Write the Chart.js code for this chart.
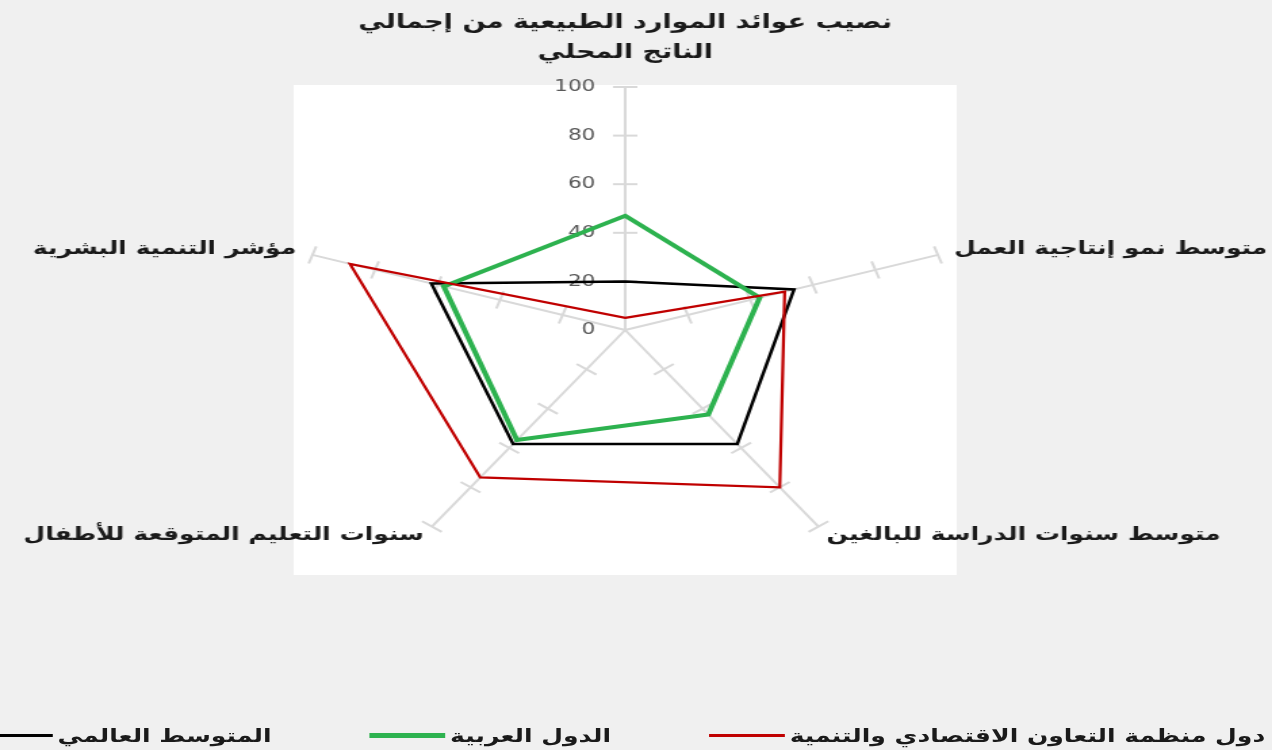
<!DOCTYPE html>
<html lang="ar">
<head>
<meta charset="utf-8">
<title>radar</title>
<script src="https://cdn.jsdelivr.net/npm/chart.js@4.4.1/dist/chart.umd.min.js"></script>
<style>
  html, body { margin: 0; padding: 0; background: #f0f0f0; overflow: hidden; width: 1272px; height: 750px; }
  /* the source picture is stretched sideways, so the whole chart is too */
  #wrap { position: relative; width: 940px; height: 750px; transform: scaleX(1.3532); transform-origin: 0 0; }
  #radar { position: absolute; left: 0; top: 0; }
  #legend { position: absolute; right: 5px; top: 725px; display: flex; flex-direction: row-reverse; gap: 72px;
            font: bold 18.5px "DejaVu Sans"; color: #1a1a1a; }
  .item { display: flex; flex-direction: row-reverse; align-items: center; gap: 4px; white-space: nowrap; }
  .swatch { width: 56px; }
</style>
</head>
<body>
<div id="wrap">
  <canvas id="radar" width="940" height="620"></canvas>
  <div id="legend"></div>
</div>
<script>
const categories = [
  ["نصيب عوائد الموارد الطبيعية من إجمالي", "الناتج المحلي"],
  "متوسط نمو إنتاجية العمل",
  "متوسط سنوات الدراسة للبالغين",
  "سنوات التعليم المتوقعة للأطفال",
  "مؤشر التنمية البشرية",
];
const seriesNames = ["دول منظمة التعاون الاقتصادي والتنمية", "الدول العربية", "المتوسط العالمي"];
const oecdValues = [5, 51, 80, 75, 88];
const arabValues = [47, 43, 43, 56, 58];
const worldValues = [20, 54, 58, 58, 62];
const tickValues = [0, 20, 40, 60, 80, 100];

const seriesColors = ["#c00000", "#2db24f", "#000000"];
const seriesWidths = [2.25, 4, 2.5];
const legendWidths = [3, 5, 2.5];

const labelFont = 'bold 18.5px "DejaVu Sans"';
const titleFont = 'bold 20px "DejaVu Sans"';

// white square behind the web, like the excel plot area
const plotBackground = {
  id: "plotBackground",
  beforeDraw(chart) {
    const r = chart.scales.r;
    const c = chart.ctx;
    c.save();
    c.fillStyle = "#ffffff";
    c.fillRect(r.xCenter - r.drawingArea - 2, r.yCenter - r.drawingArea - 2,
      2 * r.drawingArea + 4, 2 * r.drawingArea + 4);
    c.restore();
  },
};

// small cross marks on every spoke and the value labels left of the top spoke
const spokeTicks = {
  id: "spokeTicks",
  beforeDatasetsDraw(chart) {
    const r = chart.scales.r;
    const c = chart.ctx;
    c.save();
    c.strokeStyle = "#d9d9d9";
    c.lineWidth = 2;
    for (let i = 0; i < categories.length; i++) {
      const a = r.getIndexAngle(i) - Math.PI / 2;
      const px = -Math.sin(a);
      const py = Math.cos(a);
      tickValues.forEach((v) => {
        if (v === 0) return;
        const p = r.getPointPositionForValue(i, v);
        c.beginPath();
        c.moveTo(p.x - px * 9, p.y - py * 9);
        c.lineTo(p.x + px * 9, p.y + py * 9);
        c.stroke();
      });
    }
    c.fillStyle = "#595959";
    c.font = '16px "DejaVu Sans"';
    c.textAlign = "right";
    c.textBaseline = "middle";
    tickValues.forEach((v) => {
      const p = r.getPointPositionForValue(0, v);
      c.fillText(String(v), p.x - 22, p.y);
    });
    c.restore();
  },
};

// category names round the web
const axisLabels = {
  id: "axisLabels",
  afterDraw(chart) {
    const r = chart.scales.r;
    const c = chart.ctx;
    c.save();
    c.fillStyle = "#1a1a1a";
    c.textBaseline = "middle";
    categories.forEach((label, i) => {
      const p = r.getPointPositionForValue(i, 100);
      const dx = p.x - r.xCenter;
      const dy = p.y - r.yCenter;
      const lines = Array.isArray(label) ? label : [label];
      if (Math.abs(dx) < 1) {
        c.font = titleFont;
        c.textAlign = "center";
        lines.forEach((t, k) => {
          c.fillText(t, p.x, p.y - 34 - 30 * (lines.length - 1 - k));
        });
        return;
      }
      c.font = labelFont;
      c.textAlign = dx > 0 ? "left" : "right";
      const gap = dy < 0 ? 12 : 6;
      const x = p.x + (dx > 0 ? gap : -gap);
      const y = p.y + (dy < 0 ? -6 : 9);
      c.fillText(lines[0], x, y);
    });
    c.restore();
  },
};

const datasetValues = [oecdValues, arabValues, worldValues];

const chart = new Chart(document.getElementById("radar"), {
  type: "radar",
  data: {
    labels: categories,
    datasets: seriesNames.map((name, i) => ({
      label: name,
      data: datasetValues[i],
      borderColor: seriesColors[i],
      borderWidth: seriesWidths[i],
      backgroundColor: "transparent",
      fill: false,
      pointRadius: 0,
      tension: 0,
    })),
  },
  options: {
    responsive: false,
    animation: false,
    layout: { padding: { left: 219, right: 235, top: 87, bottom: 47 } },
    plugins: {
      legend: { display: false },
      tooltip: { enabled: false },
    },
    scales: {
      r: {
        min: 0,
        max: 100,
        ticks: { display: false, stepSize: 20 },
        grid: { display: false },
        angleLines: { color: "#d9d9d9", lineWidth: 2 },
        pointLabels: { display: false },
      },
    },
  },
  plugins: [plotBackground, spokeTicks, axisLabels],
});

// legend built from the datasets, right to left
const legendBox = document.getElementById("legend");
chart.data.datasets.forEach((ds, i) => {
  const item = document.createElement("div");
  item.className = "item";
  const text = document.createElement("span");
  text.textContent = ds.label;
  const swatch = document.createElement("span");
  swatch.className = "swatch";
  swatch.style.height = legendWidths[i] + "px";
  swatch.style.background = ds.borderColor;
  item.appendChild(text);
  item.appendChild(swatch);
  legendBox.appendChild(item);
});
</script>
</body>
</html>
